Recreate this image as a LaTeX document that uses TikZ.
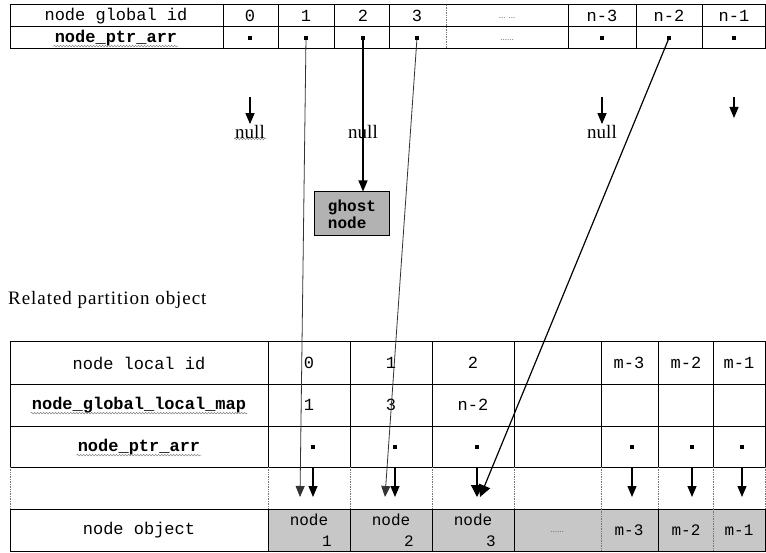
\documentclass[tikz,border=0pt]{standalone}
\usepackage{fontspec}
\setmainfont{Liberation Serif}
\setmonofont{Liberation Mono}
\usetikzlibrary{arrows.meta,decorations.pathmorphing,positioning}
\tikzset{
  tab/.style={draw=black,line width=1pt},
  dotline/.style={draw=black!55,densely dotted,line width=0.7pt},
  arr/.style={-{Triangle[length=11pt,width=9pt]},line width=1.2pt},
  bigarr/.style={-{Triangle[length=12pt,width=12pt]},line width=1.2pt},
  thinarr/.style={-{Triangle[length=11pt,width=9pt]},draw=black!80,line width=0.8pt},
  txt/.style={font=\fontsize{17}{19}\selectfont\ttfamily,inner sep=1pt},
  btxt/.style={font=\fontsize{17}{19}\selectfont\ttfamily\bfseries,inner sep=1pt},
  stxt/.style={font=\fontsize{16}{17}\selectfont\ttfamily,inner sep=1pt},
  serif/.style={font=\fontsize{19}{21}\selectfont,inner sep=1pt},
  etc/.style={font=\fontsize{9}{10}\selectfont,text=black!60,inner sep=1pt},
  wavy/.style={draw=black!50,line width=0.5pt,decorate,
    decoration={snake,amplitude=0.8pt,segment length=3pt}},
  dot/.style={rectangle,fill=black,inner sep=0pt,minimum size=3.6pt},
  ghostbox/.style={draw=black,line width=1pt,fill=black!30,align=left,
    font=\fontsize{16}{17}\selectfont\ttfamily\bfseries,minimum width=75pt,minimum height=44pt,inner sep=2pt},
  cellfill/.style={fill=black!22},
}
\begin{document}
\begin{tikzpicture}[x=1pt,y=-1pt]
  \useasboundingbox (0,0) rectangle (766,553);

  % global table
  \draw[tab] (10,5) rectangle (765,49);
  \draw[tab] (10,27) -- (765,27);
  \foreach \x in {223,278,334,389,568,636,702}
    \draw[tab] (\x,5) -- (\x,49);
  \draw[dotline] (446,5) -- (446,49);
  \node[txt] (gid) at (116,16) {node global id};
  \node[btxt] (gptr) at (116,38) {node\_ptr\_arr};
  \draw[wavy] ([yshift=1pt]gptr.south west) -- ([yshift=1pt]gptr.south east);
  \foreach \c/\lab/\nm in {250/0/0,306/1/1,363/2/2,417/3/3,602/n-3/6,669/n-2/7,734/n-1/8}{
    \node[txt] (g\nm) at (\c,16) {\lab};
    \node[dot] (d\nm) at (\c,38) {};
  }
  \node[etc] (gdots) at (507,18) {... ...};
  \node[etc] (ddots) at (507,40) {......};

  % pointers of the global array
  \coordinate (a0) at (250,97);
  \node[serif] (null0) at (250,132) {null};
  \draw[arr] (a0) -- (null0.north);
  \draw[wavy] ([yshift=1pt]null0.south west) -- ([yshift=1pt]null0.south east);
  \node[serif] (null2) at (363,132) {null};
  \node[ghostbox] (ghost) at (352,214) {ghost\\node};
  \draw[arr] (d2) -- (d2 |- ghost.north);
  \coordinate (a6) at (602,97);
  \node[serif] (null6) at (602,132) {null};
  \draw[arr] (a6) -- (null6.north);
  \coordinate (a8) at (734,97);
  \coordinate (b8) at (734,118);
  \draw[arr] (a8) -- (b8);

  \node[serif,anchor=west,font=\fontsize{19}{21}\selectfont\addfontfeature{LetterSpace=5}]
    (rpo) at (7,300) {Related partition object};

  % partition table
  \fill[cellfill] (268,509) rectangle (765,551);
  \draw[tab] (10,342) rectangle (765,467);
  \draw[tab] (10,384) -- (765,384);
  \draw[tab] (10,426) -- (765,426);
  \foreach \x in {268,350,432,514,601,658,713}
    \draw[tab] (\x,342) -- (\x,467);
  \foreach \x in {10,268,350,432,514,601,658,713,765}
    \draw[dotline] (\x,467) -- (\x,509);
  \draw[tab] (10,509) rectangle (765,551);
  \foreach \x in {268,350,432,514,658}
    \draw[tab] (\x,509) -- (\x,551);
  \foreach \x in {601,713}
    \draw[dotline] (\x,509) -- (\x,551);

  \node[txt] (lid) at (139,363) {node local id};
  \node[btxt] (lmap) at (139,405) {node\_global\_local\_map};
  \draw[wavy] ([yshift=1pt]lmap.south west) -- ([yshift=1pt]lmap.south east);
  \node[btxt] (lptr) at (139,447) {node\_ptr\_arr};
  \draw[wavy] ([yshift=1pt]lptr.south west) -- ([yshift=1pt]lptr.south east);
  \node[txt] (lobj) at (139,530) {node object};

  \foreach \c/\lab/\nm in {309/0/0,391/1/1,473/2/2,629/m-3/6,686/m-2/7,739/m-1/8}
    \node[txt] (l\nm) at (\c,363) {\lab};
  \foreach \c/\lab/\nm in {309/1/0,391/3/1,473/n-2/2}
    \node[txt] (m\nm) at (\c,405) {\lab};

  % local pointers
  \foreach \c/\nm in {313/0,395/1,477/2,632/6,692/7,742/8}{
    \node[dot] (p\nm) at (\c,447) {};
    \coordinate (s\nm) at (\c,467);
    \coordinate (t\nm) at (\c,497);
  }
  \foreach \nm in {0,1,6,7,8}
    \draw[arr] (s\nm) -- (t\nm);
  \draw[bigarr] (s2) -- (t2);

  % node objects
  \foreach \c/\lab/\nm in {309/1/1,391/2/2,473/3/3}{
    \node[stxt] (on\nm) at (\c,520) {node};
    \node[stxt] (oi\nm) at (\c+18,541) {\lab};
  }
  \node[etc] (odots) at (557,532) {......};
  \foreach \c/\lab/\nm in {629/m-3/6,686/m-2/7,739/m-1/8}
    \node[stxt] (o\nm) at (\c,530) {\lab};

  % links from global to local
  \coordinate (u1) at (300,497);
  \coordinate (u3) at (385,497);
  \coordinate (u7) at (480,497);
  \draw[thinarr] (d1) -- (u1);
  \draw[thinarr] (d3) -- (u3);
  \draw[bigarr] (d7) -- (u7);
\end{tikzpicture}
\end{document}
